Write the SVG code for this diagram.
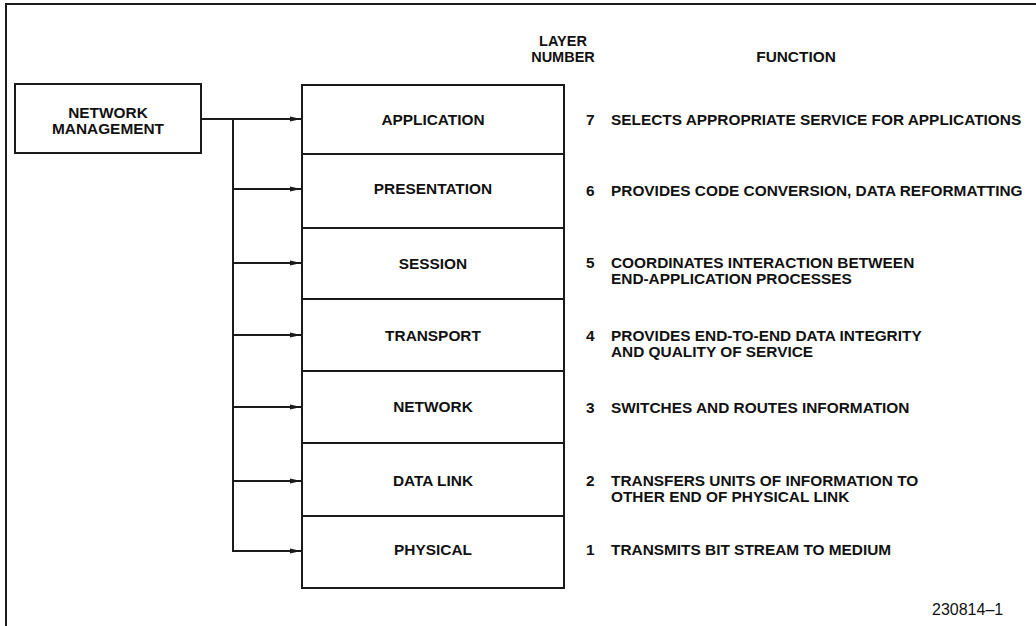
<svg xmlns="http://www.w3.org/2000/svg" width="1036" height="626" viewBox="0 0 1036 626">
<style>
.box{fill:#fff;stroke:#1a1a1a;stroke-width:2}
.t{font-family:"Liberation Sans",Arial,sans-serif;font-weight:bold;font-size:15.4px;fill:#111}
.h{font-size:14.5px}
.c{text-anchor:middle}
.ln{fill:none;stroke:#1a1a1a;stroke-width:2}
.id{font-family:"Liberation Sans",Arial,sans-serif;font-size:16px;fill:#111}
</style>
<defs>
<marker id="ah" markerWidth="11" markerHeight="6" refX="11" refY="3" orient="auto" markerUnits="userSpaceOnUse">
<path d="M0,0.5 L11,3 L0,5.5 Z" fill="#1a1a1a"/>
</marker>
</defs>
<rect width="1036" height="626" fill="#fff"/>
<path class="ln" d="M6,626 V4 H1036"/>

<g id="headers">
<text class="t h c" x="563" y="46">LAYER</text>
<text class="t h c" x="563" y="62">NUMBER</text>
<text class="t c" x="796" y="62">FUNCTION</text>
</g>

<g id="network-management">
<rect class="box" x="15" y="84" width="186" height="69"/>
<text class="t c" x="108" y="118">NETWORK</text>
<text class="t c" x="108" y="134">MANAGEMENT</text>
</g>

<g id="layer7">
<rect class="box" x="302" y="85" width="262" height="69"/>
<text class="t c" x="433" y="125">APPLICATION</text>
<text class="t" x="586" y="125">7</text>
<text class="t" x="611" y="125">SELECTS APPROPRIATE SERVICE FOR APPLICATIONS</text>
</g>
<g id="layer6">
<rect class="box" x="302" y="154" width="262" height="74"/>
<text class="t c" x="433" y="194">PRESENTATION</text>
<text class="t" x="586" y="196">6</text>
<text class="t" x="611" y="196">PROVIDES CODE CONVERSION, DATA REFORMATTING</text>
</g>
<g id="layer5">
<rect class="box" x="302" y="228" width="262" height="71"/>
<text class="t c" x="433" y="269">SESSION</text>
<text class="t" x="586" y="268">5</text>
<text class="t" x="611" y="268">COORDINATES INTERACTION BETWEEN</text>
<text class="t" x="611" y="284">END-APPLICATION PROCESSES</text>
</g>
<g id="layer4">
<rect class="box" x="302" y="299" width="262" height="72"/>
<text class="t c" x="433" y="341">TRANSPORT</text>
<text class="t" x="586" y="341">4</text>
<text class="t" x="611" y="341">PROVIDES END-TO-END DATA INTEGRITY</text>
<text class="t" x="611" y="357">AND QUALITY OF SERVICE</text>
</g>
<g id="layer3">
<rect class="box" x="302" y="371" width="262" height="72"/>
<text class="t c" x="433" y="412">NETWORK</text>
<text class="t" x="586" y="413">3</text>
<text class="t" x="611" y="413">SWITCHES AND ROUTES INFORMATION</text>
</g>
<g id="layer2">
<rect class="box" x="302" y="443" width="262" height="73"/>
<text class="t c" x="433" y="486">DATA LINK</text>
<text class="t" x="586" y="486">2</text>
<text class="t" x="611" y="486">TRANSFERS UNITS OF INFORMATION TO</text>
<text class="t" x="611" y="502">OTHER END OF PHYSICAL LINK</text>
</g>
<g id="layer1">
<rect class="box" x="302" y="516" width="262" height="72"/>
<text class="t c" x="433" y="555">PHYSICAL</text>
<text class="t" x="586" y="555">1</text>
<text class="t" x="611" y="555">TRANSMITS BIT STREAM TO MEDIUM</text>
</g>

<g id="connectors">
<path class="ln" d="M201,119 H301" marker-end="url(#ah)"/>
<path class="ln" d="M233,119 V551 H301" marker-end="url(#ah)"/>
<path class="ln" d="M233,189 H301" marker-end="url(#ah)"/>
<path class="ln" d="M233,263 H301" marker-end="url(#ah)"/>
<path class="ln" d="M233,335 H301" marker-end="url(#ah)"/>
<path class="ln" d="M233,407 H301" marker-end="url(#ah)"/>
<path class="ln" d="M233,481 H301" marker-end="url(#ah)"/>
</g>

<text class="id" x="932" y="615">230814–1</text>
</svg>
